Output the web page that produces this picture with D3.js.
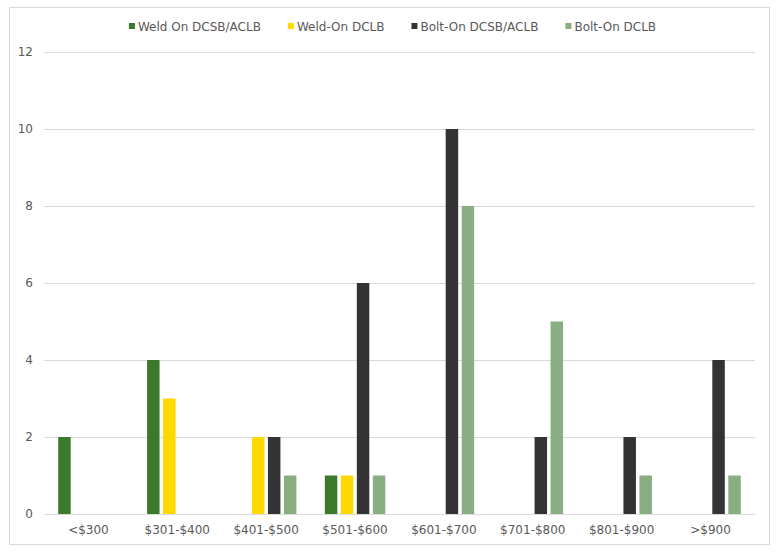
<!DOCTYPE html>
<html>
<head>
<meta charset="utf-8">
<script src="https://cdn.jsdelivr.net/npm/d3@7"></script>
<style>
  body { margin: 0; background: #fff; }
  svg text { font-family: "DejaVu Sans", Verdana, sans-serif; font-size: 12px; fill: #595959; }
</style>
</head>
<body>
<svg id="chart"></svg>
<script>
const categories = ["<$300", "$301-$400", "$401-$500", "$501-$600", "$601-$700", "$701-$800", "$801-$900", ">$900"]
const seriesNames = ["Weld On DCSB/ACLB", "Weld-On DCLB", "Bolt-On DCSB/ACLB", "Bolt-On DCLB"]
const weldOnDcsb = [2, 4, 0, 1, 0, 0, 0, 0]
const weldOnDclb = [0, 3, 2, 1, 0, 0, 0, 0]
const boltOnDcsb = [0, 0, 2, 6, 10, 2, 2, 4]
const boltOnDclb = [0, 0, 1, 1, 8, 5, 1, 1]
const yTicks = [0, 2, 4, 6, 8, 10, 12]
const colors = ["#3b7a2a", "#ffd800", "#333333", "#88ae82"]

const dimensions = {
  width: 780,
  height: 553,
  margin: { top: 52, right: 25, bottom: 39, left: 44 },
}

const values = [weldOnDcsb, weldOnDclb, boltOnDcsb, boltOnDclb]
const rows = categories.map((c, i) => ({
  category: c,
  bars: seriesNames.map((s, j) => ({ series: s, value: values[j][i], color: colors[j] })),
}))

const svg = d3.select("#chart")
  .attr("width", dimensions.width)
  .attr("height", dimensions.height)

// outer frame
svg.append("rect")
  .attr("x", 9.5).attr("y", 7.5)
  .attr("width", 760).attr("height", 537)
  .attr("fill", "#fff")
  .attr("stroke", "#d9d9d9")

const x0 = d3.scaleBand()
  .domain(categories)
  .range([dimensions.margin.left, dimensions.width - dimensions.margin.right])
  .paddingInner(0.28)
  .paddingOuter(0.14)

const x1 = d3.scaleBand()
  .domain(seriesNames)
  .range([0, x0.bandwidth()])
  .paddingInner(0.22)
  .paddingOuter(0.11)

const y = d3.scaleLinear()
  .domain([0, 12])
  .range([dimensions.height - dimensions.margin.bottom, dimensions.margin.top])

// gridlines
svg.append("g")
  .selectAll("line")
  .data(yTicks)
  .join("line")
  .attr("x1", dimensions.margin.left)
  .attr("x2", dimensions.width - dimensions.margin.right)
  .attr("y1", (d) => Math.round(y(d)) + 0.5)
  .attr("y2", (d) => Math.round(y(d)) + 0.5)
  .attr("stroke", "#d9d9d9")

// y axis labels
svg.append("g")
  .selectAll("text")
  .data(yTicks)
  .join("text")
  .attr("x", 33)
  .attr("y", (d) => y(d))
  .attr("dy", "0.36em")
  .attr("text-anchor", "end")
  .text((d) => d)

// bars
const groups = svg.append("g")
  .selectAll("g")
  .data(rows)
  .join("g")
  .attr("transform", (d) => `translate(${x0(d.category)},0)`)

groups.selectAll("rect")
  .data((d) => d.bars.filter((b) => b.value > 0))
  .join("rect")
  .attr("x", (d) => x1(d.series))
  .attr("width", x1.bandwidth())
  .attr("y", (d) => y(d.value))
  .attr("height", (d) => y(0) - y(d.value))
  .attr("fill", (d) => d.color)

// x axis labels
svg.append("g")
  .selectAll("text")
  .data(categories)
  .join("text")
  .attr("x", (d) => x0(d) + x0.bandwidth() / 2)
  .attr("y", 534)
  .attr("text-anchor", "middle")
  .text((d) => d)

// legend
const legend = svg.append("g")
const items = legend.selectAll("g")
  .data(seriesNames)
  .join("g")
items.append("rect")
  .attr("y", 23)
  .attr("width", 6)
  .attr("height", 6)
  .attr("fill", (d, i) => colors[i])
items.append("text")
  .attr("x", 9)
  .attr("y", 31)
  .text((d) => d)

const gap = 27
let offset = 0
items.each(function () {
  const g = d3.select(this)
  g.attr("transform", `translate(${offset},0)`)
  offset += 9 + g.select("text").node().getComputedTextLength() + gap
})
const legendWidth = offset - gap
legend.attr("transform", `translate(${392.5 - legendWidth / 2},0)`)
</script>
</body>
</html>
